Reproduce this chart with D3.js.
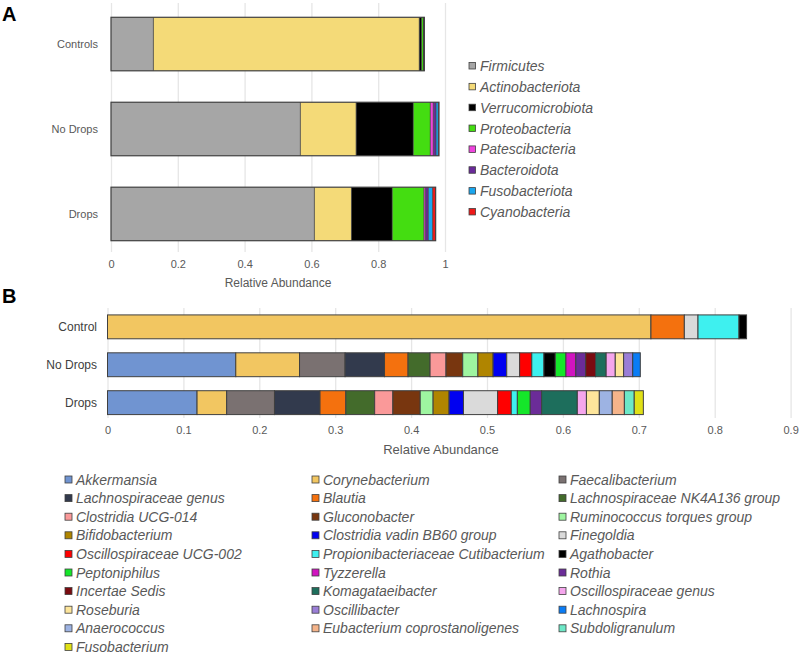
<!DOCTYPE html>
<html><head><meta charset="utf-8">
<script src="https://cdn.jsdelivr.net/npm/d3@7"></script>
<style>body{margin:0;background:#fff}svg{display:block}</style>
</head><body>
<svg id="chart" width="800" height="656"></svg>
<script>
// ---------- Panel A data ----------
const groupsA = ["Controls", "No Drops", "Drops"];
const phyla = ["Firmicutes","Actinobacteriota","Verrucomicrobiota","Proteobacteria","Patescibacteria","Bacteroidota","Fusobacteriota","Cyanobacteria"];
const phylaColors = ["#a6a6a6","#f4da78","#000000","#44dd11","#ee44dd","#6a2a9a","#1aa6ee","#ee1a1a"];
const controlsA = [0.127,0.796,0.007,0.006,0.0005,0.0005,0.0005,0.0005];
const noDropsA  = [0.567,0.167,0.171,0.051,0.009,0.008,0.007,0.002];
const dropsA    = [0.609,0.111,0.122,0.095,0.005,0.008,0.013,0.009];
const ticksA = [0,0.2,0.4,0.6,0.8,1];

// ---------- Panel B data ----------
const groupsB = ["Control","No Drops","Drops"];
const genera = ["Akkermansia","Corynebacterium","Faecalibacterium","Lachnospiraceae genus","Blautia","Lachnospiraceae NK4A136 group","Clostridia UCG-014","Gluconobacter","Ruminococcus torques group","Bifidobacterium","Clostridia vadin BB60 group","Finegoldia","Oscillospiraceae UCG-002","Propionibacteriaceae Cutibacterium","Agathobacter","Peptoniphilus","Tyzzerella","Rothia","Incertae Sedis","Komagataeibacter","Oscillospiraceae genus","Roseburia","Oscillibacter","Lachnospira","Anaerococcus","Eubacterium coprostanoligenes","Subdoligranulum","Fusobacterium"];
const generaColors = ["#7094d1","#f2c661","#7a7171","#323a4d","#f4710e","#436b2b","#fa9999","#78360f","#9ef5a0","#b08500","#0000f0","#dadada","#ff0000","#3ef0ef","#000000","#15e62a","#d114c0","#6b2c98","#7a0b10","#1d6e5c","#f5a6ed","#fde59b","#9a7ed6","#0a7cf5","#9db3e3","#f5b48a","#6de8c7","#e0e016"];
const controlB = [0,0.716,0,0,0.044,0,0,0,0,0,0,0.018,0,0.054,0.010,0,0,0,0,0,0,0,0,0,0,0,0,0];
const noDropsB = [0.169,0.084,0.060,0.052,0.031,0.029,0.021,0.022,0.020,0.020,0.018,0.017,0.016,0.016,0.015,0.014,0.013,0.013,0.013,0.014,0.012,0.011,0.012,0.010,0,0,0,0];
const dropsB   = [0.118,0.039,0.063,0.060,0.034,0.038,0.024,0.036,0.017,0.021,0.019,0.045,0.018,0.008,0,0.017,0,0.015,0,0.047,0.012,0.017,0,0,0.017,0.016,0.013,0.012];
const ticksB = [0,0.1,0.2,0.3,0.4,0.5,0.6,0.7,0.8,0.9];

const FONT = "'Liberation Sans', Arial, sans-serif";
const svg = d3.select("#chart").style("font-family", FONT);

function stackRows(groups, values, keys) {
  return groups.map((g, gi) => {
    let x0 = 0;
    return keys.map((k, ki) => {
      const v = values[gi][ki];
      const seg = {group: g, key: k, ki, x0, x1: x0 + v};
      x0 += v;
      return seg;
    }).filter(s => s.x1 - s.x0 > 0);
  });
}

// ---------- Panel A ----------
{
  const xA = d3.scaleLinear().domain([0,1]).range([111,445]);
  const yA = d3.scaleBand().domain(groupsA).range([2,256]).paddingInner(0.37).paddingOuter(0.18);
  const g = svg.append("g");
  g.append("g").attr("transform","translate(0,252)")
    .call(d3.axisBottom(xA).tickValues(ticksA).tickSize(-249).tickFormat(d3.format("~g")))
    .call(a => a.select(".domain").remove())
    .call(a => a.selectAll(".tick line").attr("stroke","#e6e6e6").attr("stroke-width",1.3))
    .call(a => a.selectAll(".tick text").attr("fill","#595959").attr("font-size",11).attr("dy","1.15em").attr("font-family",FONT));
  const rows = stackRows(groupsA, [controlsA, noDropsA, dropsA], phyla);
  rows.forEach(r => {
    g.append("g").selectAll("rect").data(r).join("rect")
      .attr("x", d => xA(d.x0)).attr("width", d => xA(d.x1) - xA(d.x0))
      .attr("y", d => yA(d.group)).attr("height", yA.bandwidth())
      .attr("fill", d => phylaColors[d.ki]);
    // outline
    g.append("rect").attr("x", xA(0)).attr("y", yA(r[0].group))
      .attr("width", xA(r[r.length-1].x1) - xA(0)).attr("height", yA.bandwidth())
      .attr("fill","none").attr("stroke","#404040").attr("stroke-width",1.2);
    g.append("g").selectAll("line").data(r.slice(0,-1)).join("line")
      .attr("x1", d => xA(d.x1)).attr("x2", d => xA(d.x1))
      .attr("y1", yA(r[0].group)).attr("y2", yA(r[0].group) + yA.bandwidth())
      .attr("stroke","#404040").attr("stroke-width",0.8);
  });
  g.append("g").selectAll("text").data(groupsA).join("text")
    .attr("x", 98).attr("y", d => yA(d) + yA.bandwidth()/2).attr("dy","0.35em")
    .attr("text-anchor","end").attr("font-size",11).attr("fill","#595959").text(d => d);
  g.append("text").attr("x", (xA(0)+xA(1))/2).attr("y", 287).attr("text-anchor","middle")
    .attr("font-size",12).attr("fill","#595959").text("Relative Abundance");
  // legend
  const lg = g.append("g").selectAll("g").data(phyla).join("g")
    .attr("transform",(d,i)=>`translate(469,${66 + i*20.85})`);
  lg.append("rect").attr("x",0).attr("y",-3.5).attr("width",6.5).attr("height",6.5)
    .attr("fill",(d,i)=>phylaColors[i]).attr("stroke","#404040").attr("stroke-width",0.8);
  lg.append("text").attr("x",11).attr("dy","0.36em").attr("font-size",14).attr("font-style","italic")
    .attr("fill","#595959").text(d=>d);
  svg.append("text").attr("x",2).attr("y",21).attr("font-size",20).attr("font-weight","bold").attr("fill","#000").text("A");
}

// ---------- Panel B ----------
{
  const xB = d3.scaleLinear().domain([0,0.9]).range([107.5,790.6]);
  const yB = d3.scaleBand().domain(groupsB).range([311.5,418]).paddingInner(0.37).paddingOuter(0.09);
  const g = svg.append("g");
  g.append("g").attr("transform","translate(0,418)")
    .call(d3.axisBottom(xB).tickValues(ticksB).tickSize(-110).tickFormat(d3.format("~g")))
    .call(a => a.select(".domain").remove())
    .call(a => a.selectAll(".tick line").attr("stroke","#e6e6e6").attr("stroke-width",1.3))
    .call(a => a.selectAll(".tick text").attr("fill","#595959").attr("font-size",11).attr("dy","1.2em").attr("font-family",FONT));
  const rows = stackRows(groupsB, [controlB, noDropsB, dropsB], genera);
  rows.forEach(r => {
    g.append("g").selectAll("rect").data(r).join("rect")
      .attr("x", d => xB(d.x0)).attr("width", d => xB(d.x1) - xB(d.x0))
      .attr("y", d => yB(d.group)).attr("height", yB.bandwidth())
      .attr("fill", d => generaColors[d.ki]).attr("stroke","#404040").attr("stroke-width",1);
  });
  g.append("g").selectAll("text").data(groupsB).join("text")
    .attr("x", 97).attr("y", d => yB(d) + yB.bandwidth()/2).attr("dy","0.35em")
    .attr("text-anchor","end").attr("font-size",12).attr("fill","#404040").text(d => d);
  g.append("text").attr("x", 441).attr("y", 454).attr("text-anchor","middle")
    .attr("font-size",13).attr("fill","#595959").text("Relative Abundance");
  const colX = [65, 312, 559];
  const lg = g.append("g").selectAll("g").data(genera).join("g")
    .attr("transform",(d,i)=>`translate(${colX[i%3]},${479.5 + Math.floor(i/3)*18.6})`);
  lg.append("rect").attr("x",0).attr("y",-3.5).attr("width",7).attr("height",7)
    .attr("fill",(d,i)=>generaColors[i]).attr("stroke","#404040").attr("stroke-width",0.8);
  lg.append("text").attr("x",11).attr("dy","0.36em").attr("font-size",14).attr("font-style","italic")
    .attr("fill","#595959").text(d=>d);
  svg.append("text").attr("x",2).attr("y",303).attr("font-size",20).attr("font-weight","bold").attr("fill","#000").text("B");
}
</script>
</body></html>
